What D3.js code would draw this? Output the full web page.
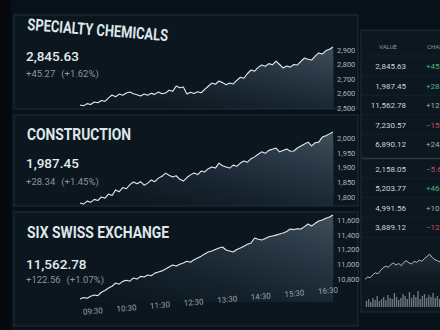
<!DOCTYPE html>
<html><head><meta charset="utf-8">
<script src="https://cdn.jsdelivr.net/npm/d3@7"></script>
<style>html,body{margin:0;padding:0;background:#081117;overflow:hidden}</style>
</head><body><svg id="c" width="440" height="330"></svg>
<script>
// ---------- DATA ----------
const titles = ["SPECIALTY CHEMICALS", "CONSTRUCTION", "SIX SWISS EXCHANGE"];
const lastValues = [2845.63, 1987.45, 11562.78];
const changeAbs = [45.27, 28.34, 122.56];
const changePct = [1.62, 1.45, 1.07];

const chemSeries = [2521,2515,2530,2524,2541,2536,2552,2546,2570,2590,2578,2596,2588,2604,2610,2598,2592,2583,2596,2588,2601,2594,2610,2598,2603,2622,2615,2652,2640,2645,2597,2608,2600,2612,2605,2628,2650,2672,2664,2686,2675,2660,2672,2666,2690,2712,2705,2738,2762,2754,2780,2797,2788,2806,2798,2824,2800,2776,2790,2782,2800,2797,2822,2845,2836,2831,2858,2880,2872,2896,2905,2921];
const constrSeries = [1780,1776,1786,1782,1792,1788,1800,1796,1810,1805,1824,1818,1832,1828,1842,1851,1845,1852,1840,1847,1858,1852,1864,1870,1881,1874,1868,1872,1860,1854,1866,1875,1881,1876,1888,1885,1896,1902,1898,1915,1906,1902,1898,1908,1904,1915,1922,1918,1930,1936,1945,1953,1948,1958,1962,1966,1953,1958,1963,1955,1956,1966,1973,1980,1986,1973,1984,1986,2003,2008,2014,2020];
const sixSeries = [10529,10548,10540,10566,10583,10575,10620,10645,10678,10702,10746,10730,10768,10782,10770,10814,10800,10836,10828,10854,10845,10880,10895,10910,10935,10962,10990,10975,11000,11017,11040,11028,11060,11085,11110,11140,11166,11180,11200,11220,11234,11193,11180,11166,11200,11220,11245,11270,11288,11356,11340,11329,11350,11372,11383,11395,11410,11424,11445,11478,11470,11482,11478,11510,11546,11519,11555,11586,11600,11625,11640,11668];

const chemTicks = [2500, 2600, 2700, 2800, 2900];
const constrTicks = [1800, 1850, 1900, 1950, 2000];
const sixTicks = [10800, 11000, 11200, 11400, 11600];
const timeLabels = ["09:30","10:30","11:30","12:30","13:30","14:30","15:30","16:30"];

const tableHeaders = ["VALUE", "CHANGE"];
const tableValues = [2845.63, 1987.45, 11562.78, 7230.57, 6890.12, 2158.05, 5203.77, 4991.56, 3889.12];
const tableChanges = [45.27, 28.34, 122.56, -15.82, 24.31, -5.67, 46.12, 10.45, -12.08];

const miniSeries = [100,104,103,108,112,110,116,121,124,122,127,130,126,129,125,131,134,130,128,133,131,135,133,138,142,146,140,136,134,132];
const volumeSeries = [6,8,5,9,7,11,6,8,10,7,12,9,8,14,10,7,9,13,11,8,15,9,12,10,16,8,11,13,9,12,10,14,9,11,8];

// ---------- DRAW ----------
const svg = d3.select("#c");
const W = 440, H = 330;
const FONT = "Roboto, 'Noto Sans', sans-serif";

const defs = svg.append("defs");
const grad = defs.append("linearGradient").attr("id","ag")
  .attr("x1","1").attr("y1","0").attr("x2","0.15").attr("y2","1");
grad.append("stop").attr("offset","0").attr("stop-color","#6a7e8d").attr("stop-opacity",0.55);
grad.append("stop").attr("offset","0.55").attr("stop-color","#34475a").attr("stop-opacity",0.4);
grad.append("stop").attr("offset","1").attr("stop-color","#13202b").attr("stop-opacity",0.15);
const grad2 = defs.append("linearGradient").attr("id","mg").attr("x1","0").attr("y1","0").attr("x2","0").attr("y2","1");
grad2.append("stop").attr("offset","0").attr("stop-color","#4d6070").attr("stop-opacity",0.35);
grad2.append("stop").attr("offset","1").attr("stop-color","#1a2731").attr("stop-opacity",0.05);

svg.append("rect").attr("width",W).attr("height",H).attr("fill","#081117");
svg.append("rect").attr("x",0).attr("y",0).attr("width",11).attr("height",H).attr("fill","#05090c");

const layout = [
  {top:15, bottom:109, yr:[108,50], base:109, titleY:30, tilt:4.5, tlen:141, valY:61, chgY:77},
  {top:115, bottom:206, yr:[197,138], base:206, titleY:140, tilt:0, tlen:104, valY:168, chgY:185},
  {top:212, bottom:326, yr:[279,220], base:302, titleY:238, tilt:0, tlen:142, valY:269, chgY:283}
];
const seriesList = [chemSeries, constrSeries, sixSeries];
const tickList = [chemTicks, constrTicks, sixTicks];
const x = d3.scaleLinear().domain([0, chemSeries.length - 1]).range([80, 333]);
const fmt2 = d3.format(",.2f");

layout.forEach((L, k) => {
  const g = svg.append("g");
  g.append("rect").attr("x",14).attr("y",L.top).attr("width",344).attr("height",L.bottom-L.top)
    .attr("fill","#0b161e").attr("stroke","#1e2b34").attr("stroke-width",1.2);
  const y = d3.scaleLinear().domain(d3.extent(tickList[k])).range(L.yr);
  const area = d3.area().x((d,i)=>x(i)).y0(L.base).y1(d=>y(d));
  const line = d3.line().x((d,i)=>x(i)).y(d=>y(d));
  g.append("path").datum(seriesList[k]).attr("d",area).attr("fill","url(#ag)");
  g.append("path").datum(seriesList[k]).attr("d",line).attr("fill","none")
    .attr("stroke","#e4eaee").attr("stroke-width",1.1).attr("stroke-linejoin","round");

  const ax = d3.axisRight(y).tickValues(tickList[k]).tickFormat(d3.format(",")).tickSize(0).tickPadding(4);
  g.append("g").attr("transform","translate(333,0)").call(ax).call(a => {
    a.select(".domain").attr("stroke","#1a252e");
    a.selectAll("text").attr("fill","#a9b3ba").attr("font-size",7.5).attr("font-family",FONT);
  });

  g.append("text").attr("x",27).attr("y",L.titleY)
    .attr("transform", L.tilt ? `rotate(${L.tilt},27,${L.titleY})` : null)
    .attr("font-family",FONT).attr("font-weight",700).attr("font-size",16.5)
    .attr("textLength",L.tlen).attr("lengthAdjust","spacingAndGlyphs")
    .attr("fill","#dfe6ea").text(titles[k]);
  g.append("text").attr("x",26).attr("y",L.valY)
    .attr("font-family",FONT).attr("font-weight",500).attr("font-size",13.5)
    .attr("fill","#e6ebee").text(fmt2(lastValues[k]));
  const ct = g.append("text").attr("x",26).attr("y",L.chgY)
    .attr("font-family",FONT).attr("font-size",9.5).attr("fill","#8a959d");
  ct.append("tspan").text("+" + fmt2(changeAbs[k]));
  ct.append("tspan").attr("dx",6).text("(+" + changePct[k].toFixed(2) + "%)");

  if (k === 2) {
    const xt = d3.scalePoint().domain(timeLabels).range([92, 328]);
    const xa = d3.axisBottom(xt).tickSize(0).tickPadding(1);
    svg.append("g").attr("transform","rotate(-5,210,302) translate(0,297)").call(xa).call(a => {
      a.select(".domain").remove();
      a.selectAll("text").attr("fill","#98a3ab").attr("font-size",8).attr("font-family",FONT);
    });
  }
});

// ---------- right table panel ----------
const rp = svg.append("g");
rp.append("rect").attr("x",361).attr("y",30).attr("width",90).attr("height",282)
  .attr("fill","#0c1720").attr("stroke","#1e2b34").attr("stroke-width",1.2);
rp.append("text").attr("x",388).attr("y",49).attr("text-anchor","middle")
  .attr("font-family",FONT).attr("font-size",6).attr("fill","#8e99a2").text(tableHeaders[0]);
rp.append("text").attr("x",427).attr("y",49)
  .attr("font-family",FONT).attr("font-size",6).attr("fill","#8e99a2").text(tableHeaders[1]);

const rowY = i => 66 + i * 19.6 + (i >= 5 ? 4.5 : 0);
tableValues.forEach((v, i) => {
  const yy = rowY(i);
  rp.append("line").attr("x1",362).attr("x2",440).attr("y1",yy-10).attr("y2",yy-10)
    .attr("stroke", i === 5 ? "#2b3842" : "#18242d").attr("stroke-width", i === 5 ? 1.3 : 0.8);
  rp.append("text").attr("x",406).attr("y",yy+3).attr("text-anchor","end")
    .attr("font-family",FONT).attr("font-size",8).attr("fill","#cdd4d9").text(fmt2(v));
  const c = tableChanges[i];
  rp.append("text").attr("x",426).attr("y",yy+3)
    .attr("font-family",FONT).attr("font-size",8)
    .attr("fill", c >= 0 ? (c > 40 && c < 100 || c < 30 && c > 25 ? "#4fb877" : "#9fb3a8") : "#cf4b5a")
    .text((c >= 0 ? "+" : "") + fmt2(c));
});
rp.append("line").attr("x1",362).attr("x2",440).attr("y1",rowY(8)+10).attr("y2",rowY(8)+10)
  .attr("stroke","#18242d").attr("stroke-width",0.8);

// mini chart
const mx = d3.scaleLinear().domain([0, miniSeries.length-1]).range([365, 440]);
const my = d3.scaleLinear().domain([95, 150]).range([282, 252]);
rp.append("path").datum(miniSeries)
  .attr("d", d3.area().x((d,i)=>mx(i)).y0(286).y1(d=>my(d))).attr("fill","url(#mg)");
rp.append("path").datum(miniSeries)
  .attr("d", d3.line().x((d,i)=>mx(i)).y(d=>my(d)))
  .attr("fill","none").attr("stroke","#c3ccd2").attr("stroke-width",0.9);

const vx = d3.scaleBand().domain(d3.range(volumeSeries.length)).range([365, 441]).padding(0.35);
const vy = d3.scaleLinear().domain([0, 20]).range([307, 287]);
rp.selectAll("rect.vol").data(volumeSeries).enter().append("rect").attr("class","vol")
  .attr("x",(d,i)=>vx(i)).attr("width",vx.bandwidth())
  .attr("y",d=>vy(d)).attr("height",d=>307-vy(d)).attr("fill","#6b7781");
</script>
</body></html>
